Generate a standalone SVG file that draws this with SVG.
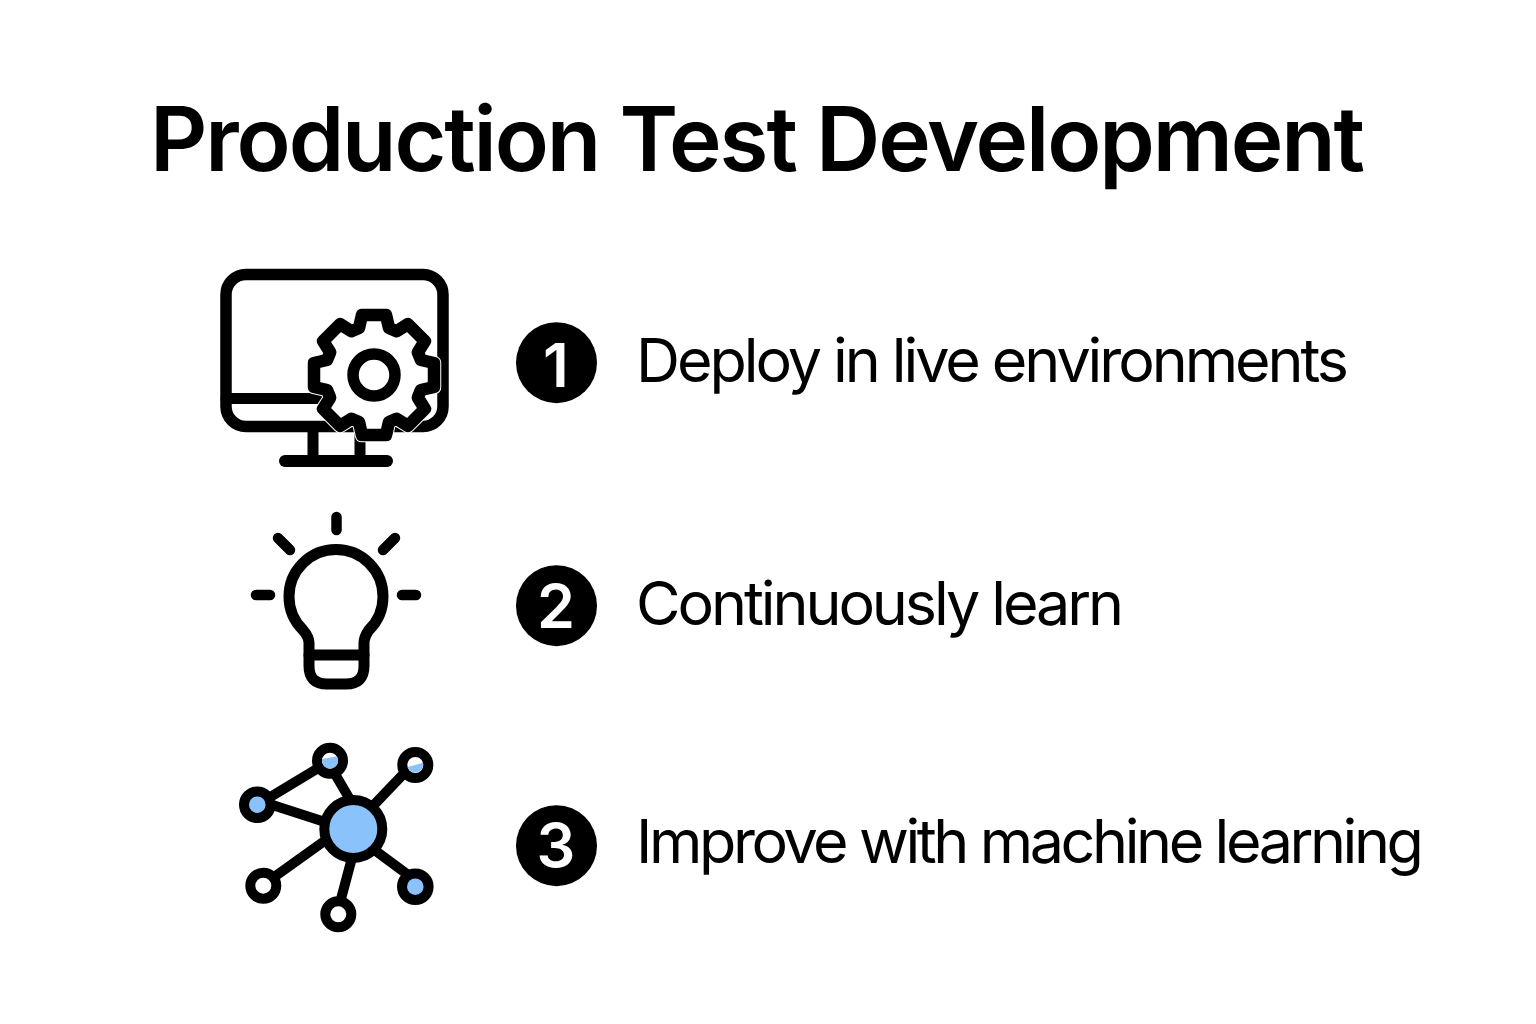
<svg xmlns="http://www.w3.org/2000/svg" width="1536" height="1024" viewBox="0 0 1536 1024">
<style>
.ln{fill:none;stroke:#000;stroke-linecap:round;stroke-linejoin:round}
.title{font-family:Inter,"Liberation Sans",sans-serif;font-weight:600;font-size:89px;fill:#000}
.lab{font-family:Inter,"Liberation Sans",sans-serif;font-weight:400;font-size:61px;fill:#000}
.num{font-family:Inter,"Liberation Sans",sans-serif;font-weight:600;font-size:61px;fill:#fff;text-anchor:middle}
.nd{stroke:#000;stroke-width:10;fill:#fff}
.blue{fill:#8ac2fb}
</style>
<rect width="1536" height="1024" fill="#fff"/>
<text class="title" x="150" y="171" textLength="1215" lengthAdjust="spacing">Production Test Development</text>
<g id="icon-monitor">
<rect class="ln" x="226" y="274.500" width="217" height="152" rx="20" stroke-width="11.500" fill="#fff"/>
<path class="ln" d="M226 398.500H330M313 432V461M360 432V461" stroke-width="11"/>
<path class="ln" d="M285 461H387" stroke-width="12"/>
<path id="gear-halo" d="M359 328L362 315H386L389 328L396.600 331.200L407.900 324.100L424.900 341.100L417.800 352.400L421 360L434 363V387L421 390L417.800 397.600L424.900 408.900L407.900 425.900L396.600 418.800L389 422L386 435H362L359 422L351.400 418.800L340.100 425.900L323.100 408.900L330.200 397.600L327 390L314 387V363L327 360L330.200 352.400L323.100 341.100L340.100 324.100L351.400 331.200Z" fill="#fff" stroke="#fff" stroke-width="14.500" stroke-linejoin="round"/>
<path class="ln" d="M359 328L362 315H386L389 328L396.600 331.200L407.900 324.100L424.900 341.100L417.800 352.400L421 360L434 363V387L421 390L417.800 397.600L424.900 408.900L407.900 425.900L396.600 418.800L389 422L386 435H362L359 422L351.400 418.800L340.100 425.900L323.100 408.900L330.200 397.600L327 390L314 387V363L327 360L330.200 352.400L323.100 341.100L340.100 324.100L351.400 331.200Z" stroke-width="12.500"/>
<circle class="ln" cx="374" cy="375" r="21" stroke-width="11.500"/>
</g>
<g id="icon-bulb">
<path class="ln" d="M309 666V643Q309 637 303 630A47 47 0 1 1 369 630Q364 637 364 643V666Q364 684 346 684H327Q309 684 309 666Z" stroke-width="11"/>
<path class="ln" d="M309 655H364" stroke-width="11"/>
<path class="ln" d="M336.500 517V530M278 538L290 550M395 538L383 550M256 595H270M402 595H416" stroke-width="10.500"/>
</g>
<g id="icon-network">
<g id="connectors">
<path class="ln" stroke-width="10" d="M330 761L257 805M257 800L325 822M328 762L352 803M412 765L370 809M263 885L330 837M337 914L353 854M365 843L415 880"/>
</g>
<g id="hub"><circle cx="353.300" cy="829" r="29" class="nd blue" style="fill:#8ac2fb"/></g>
<g id="n1"><circle cx="330" cy="760.700" r="13" class="nd"/><path class="blue" d="M322.200 759L336.800 756.300A8 8 0 1 1 322.200 759Z"/></g>
<g id="n2"><circle cx="415.300" cy="765" r="13" class="nd"/><path class="blue" d="M407.600 767L423 762.800A8 8 0 0 1 407.600 767Z"/></g>
<g id="n3"><circle cx="257.300" cy="804.700" r="13.300" class="nd" style="fill:#8ac2fb"/></g>
<g id="n4"><circle cx="263.300" cy="885.700" r="13" class="nd"/></g>
<g id="n5"><circle cx="338.300" cy="914.300" r="13" class="nd"/></g>
<g id="n6"><circle cx="415.300" cy="886.700" r="13.300" class="nd" style="fill:#8ac2fb"/></g>
</g>
<g id="step-1"><circle cx="556.500" cy="362.700" r="40.500"/><text class="num" x="556" y="386.700">1</text><text class="lab" x="636" y="381.500" textLength="713" lengthAdjust="spacing">Deploy in live environments</text></g>
<g id="step-2"><circle cx="556.500" cy="605.700" r="40.500"/><text class="num" x="556" y="628">2</text><text class="lab" x="636" y="625" textLength="488" lengthAdjust="spacing">Continuously learn</text></g>
<g id="step-3"><circle cx="556.500" cy="845.700" r="40.500"/><text class="num" x="556" y="867">3</text><text class="lab" x="636" y="863" textLength="788" lengthAdjust="spacing">Improve with machine learning</text></g>
</svg>
